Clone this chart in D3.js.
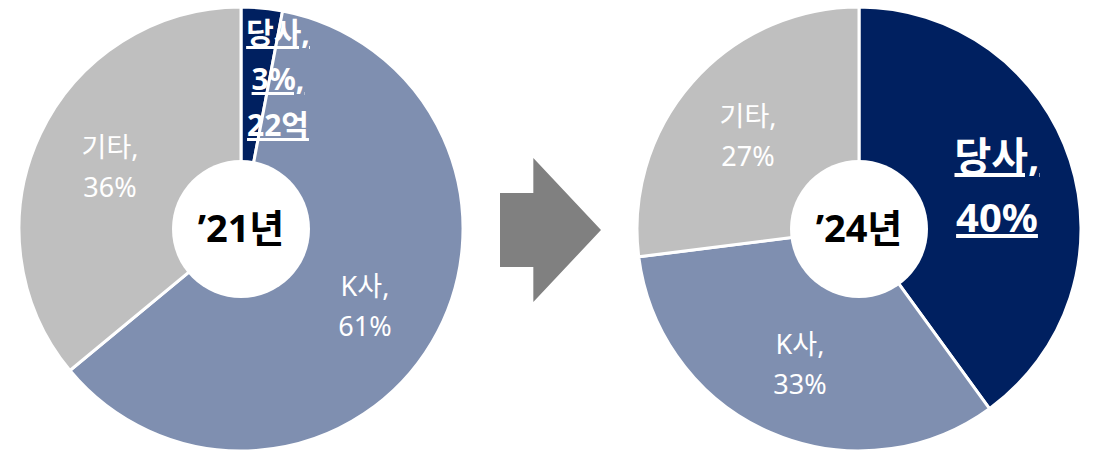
<!DOCTYPE html>
<html><head><meta charset="utf-8">
<script src="https://cdn.jsdelivr.net/npm/d3@7"></script>
<style>body{margin:0;background:#fff}svg{display:block}text{font-family:"Noto Sans","Noto Sans CJK KR",sans-serif}</style>
</head><body>
<svg id="c" width="1094" height="452"></svg>
<script>
const categories = ["당사", "K사", "기타"];
const values2021 = [3, 61, 36];
const values2024 = [40, 33, 27];
const yearLabels = ["’21년", "’24년"];
const extra2021 = ["22억", null, null];
const colors = ["#002060", "#7f8fb0", "#bfbfbf"];

const svg = d3.select("#c");
const R = 222, r0 = 69;
const pie = d3.pie().sort(null).value(d => d.v);
const arc = d3.arc().innerRadius(0).outerRadius(R);

function drawPie(cx, cy, vals, year, labelCfg, extra) {
  const g = svg.append("g").attr("transform", `translate(${cx},${cy})`);
  const data = categories.map((c, i) => ({c, v: vals[i], i}));
  const arcs = pie(data);
  g.selectAll("path").data(arcs).enter().append("path")
    .attr("d", arc).attr("fill", d => colors[d.data.i])
    .attr("stroke", "#fff").attr("stroke-width", 3).attr("stroke-linejoin", "miter");
  g.append("circle").attr("r", r0).attr("fill", "#fff");
  g.append("text").attr("text-anchor", "middle").attr("dy", "0.35em")
    .attr("font-size", 38).attr("font-weight", "bold").attr("fill", "#000").text(year);
  arcs.forEach(a => {
    const cfg = labelCfg[a.data.i];
    const lines = [a.data.c + ",", a.data.v + "%" + (extra[a.data.i] ? "," : "")];
    if (extra[a.data.i]) lines.push(extra[a.data.i]);
    const t = g.append("text").attr("text-anchor", "middle").attr("fill", "#fff")
      .attr("font-size", cfg.fs).attr("font-weight", cfg.bold ? "bold" : "normal");
    lines.forEach((l, k) => {
      t.append("tspan").attr("x", cfg.x).attr("y", cfg.y + k * cfg.lh)
        .attr("text-decoration", cfg.bold ? "underline" : null).text(l);
    });
  });
}

drawPie(241, 229, values2021, yearLabels[0], [
  {x: 37, y: -185, lh: 46, fs: 30, bold: true},
  {x: 124, y: 67, lh: 40, fs: 27},
  {x: -131, y: -72, lh: 40, fs: 27}
], extra2021);

drawPie(859, 229, values2024, yearLabels[1], [
  {x: 138, y: -58, lh: 61, fs: 40, bold: true},
  {x: -59, y: 125, lh: 40, fs: 27},
  {x: -111, y: -103, lh: 40, fs: 27}
], [null, null, null]);

// arrow
const ax = d3.scaleLinear().domain([0, 1]).range([500, 601]);
svg.append("path")
  .attr("d", `M${ax(0)},193 L${ax(0.33)},193 L${ax(0.33)},158 L${ax(1)},230 L${ax(0.33)},302 L${ax(0.33)},267 L${ax(0)},267 Z`)
  .attr("fill", "#808080");
</script>
</body></html>
